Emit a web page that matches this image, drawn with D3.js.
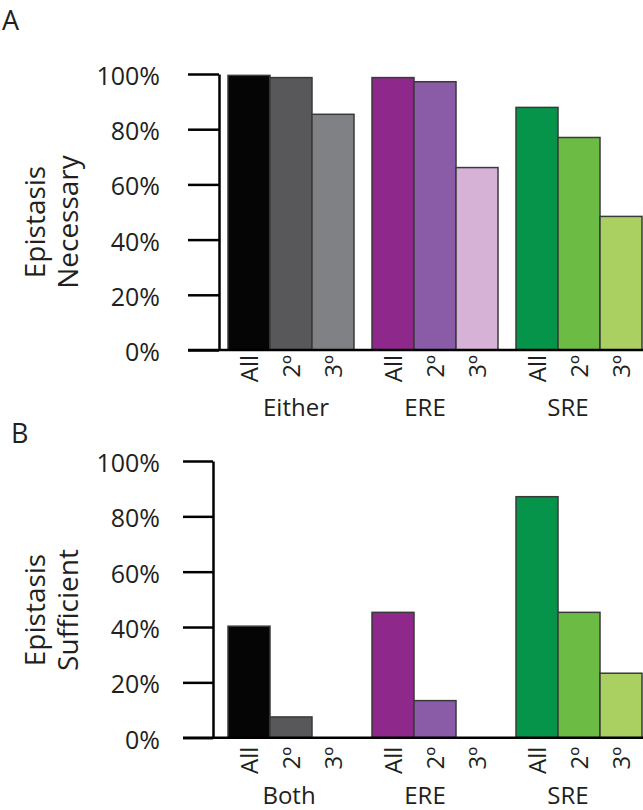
<!DOCTYPE html>
<html><head><meta charset="utf-8">
<script src="https://cdn.jsdelivr.net/npm/d3@7"></script>
<style>body{margin:0;background:#fff}svg{display:block}text{font-family:"Open Sans",sans-serif;fill:#231f20}</style>
</head><body>
<svg id="c" width="643" height="810"></svg>
<script>
const subCats = ["All", "2º", "3º"];
const groupsA = ["Either", "ERE", "SRE"];
const groupsB = ["Both", "ERE", "SRE"];
const necessaryEither = [99.5, 98.7, 85.4];
const necessaryERE = [98.7, 97.2, 66.1];
const necessarySRE = [87.9, 77.0, 48.4];
const sufficientBoth = [40.3, 7.5, 0];
const sufficientERE = [45.3, 13.4, 0];
const sufficientSRE = [87.1, 45.3, 23.3];
const yTicks = [0, 20, 40, 60, 80, 100];
const colors = [
  ["#050505", "#58585a", "#808184"],
  ["#8e288b", "#8a5ba6", "#d5b2d6"],
  ["#05944a", "#6cbb44", "#abd062"]
];

const svg = d3.select("#c");

function panel(opts) {
  const g = svg.append("g");
  const y = d3.scaleLinear().domain([0, 100]).range([opts.bottom, opts.top]);
  const xg = d3.scaleBand().domain(d3.range(3)).range([228, 642]).paddingInner(0.125).paddingOuter(0);
  const xs = d3.scaleBand().domain(subCats).range([0, xg.bandwidth()]).padding(0);

  opts.series.forEach((vals, gi) => {
    const gg = g.append("g").attr("transform", `translate(${xg(gi)},0)`);
    gg.selectAll("rect").data(vals.map((v, i) => ({v, c: subCats[i], col: colors[gi][i]})).filter(d => d.v > 0))
      .join("rect")
      .attr("x", d => xs(d.c)).attr("width", xs.bandwidth())
      .attr("y", d => y(d.v)).attr("height", d => y(0) - y(d.v))
      .attr("fill", d => d.col).attr("stroke", "#3a3a3a").attr("stroke-width", 1.5);
    gg.selectAll("text.sub").data(subCats).join("text").attr("class", "sub")
      .attr("transform", d => `translate(${xs(d) + xs.bandwidth() / 2},${opts.bottom + opts.subGap}) rotate(-90)`)
      .attr("text-anchor", "end").attr("dy", "0.36em").attr("font-size", 24).text(d => d);
    gg.append("text").attr("x", xs.bandwidth() * 1.5 + opts.groupDx[gi]).attr("y", opts.groupY)
      .attr("text-anchor", "middle").attr("font-size", 24).text(opts.groups[gi]);
  });

  const ax = d3.axisLeft(y).tickValues(yTicks).tickFormat(d => d + "%")
    .tickSize(opts.axisX - opts.tickStart).tickSizeOuter(0).tickPadding(opts.tickStart - 160);
  const ag = g.append("g").attr("transform", `translate(${opts.axisX},0)`).call(ax);
  ag.select(".domain").attr("stroke", "#000").attr("stroke-width", 2.5);
  ag.selectAll(".tick line").attr("stroke", "#000").attr("stroke-width", 2.5);
  ag.selectAll(".tick text").attr("font-size", 25).attr("font-family", "Open Sans").attr("fill", "#231f20").attr("dy", "0.42em");

  g.append("line").attr("x1", opts.tickStart).attr("x2", 643).attr("y1", y(0)).attr("y2", y(0))
    .attr("stroke", "#000").attr("stroke-width", 2.5);

  const lab = g.append("text").attr("transform", `translate(0,${opts.labelY}) rotate(-90)`)
    .attr("text-anchor", "middle").attr("font-size", 28);
  lab.append("tspan").attr("x", 0).attr("y", 45).text(opts.label[0]);
  lab.append("tspan").attr("x", 0).attr("y", 78).text(opts.label[1]);

  svg.append("text").attr("x", opts.letterX).attr("y", opts.letterY).attr("font-size", 27).text(opts.letter);
}

panel({top: 74, bottom: 350, axisX: 219, tickStart: 188, subGap: 5, groupY: 416, groupDx: [5, -10, -11],
  series: [necessaryEither, necessaryERE, necessarySRE], groups: groupsA,
  label: ["Epistasis", "Necessary"], labelY: 222, letter: "A", letterX: 2, letterY: 30});
panel({top: 461, bottom: 737.7, axisX: 213, tickStart: 183, subGap: 9, groupY: 804, groupDx: [-2, -10, -11],
  series: [sufficientBoth, sufficientERE, sufficientSRE], groups: groupsB,
  label: ["Epistasis", "Sufficient"], labelY: 610, letter: "B", letterX: 11, letterY: 443});
</script>
</body></html>
